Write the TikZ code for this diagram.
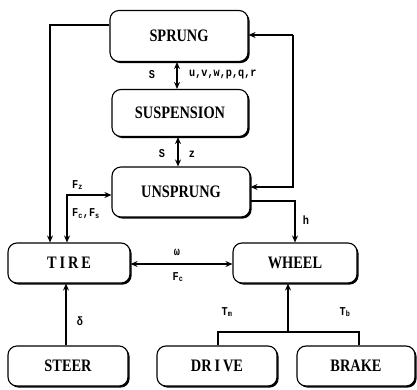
\documentclass[tikz,border=0pt]{standalone}
\usepackage{fontspec}
\newfontfamily\lbl[FakeStretch=0.82]{Liberation Serif}
\newfontfamily\sml[FakeStretch=0.85]{Liberation Mono}
\usetikzlibrary{shadows,arrows.meta}
\newcommand{\sbs}[1]{\textsubscript{#1}}
\begin{document}
\begin{tikzpicture}[x=1pt,y=-1pt,
  blk/.style={draw,line width=1.1pt,rounded corners=9pt,fill=white,
    drop shadow={shadow xshift=1.6pt,shadow yshift=-1.6pt,opacity=1,fill=black},
    font=\lbl\bfseries\fontsize{17.5}{17.5}\selectfont,inner sep=0pt},
  arr/.style={line width=1.1pt,-{Stealth[length=7pt,width=6pt]}},
  darr/.style={line width=1.1pt,{Stealth[length=7pt,width=6pt]}-{Stealth[length=7pt,width=6pt]}},
  ln/.style={line width=1.1pt},
  lab/.style={font=\sml\bfseries\fontsize{12}{12}\selectfont,inner sep=1pt}]
\useasboundingbox (0,0) rectangle (417,390);
\node[blk,minimum width=138pt,minimum height=51pt] (sprung) at (179,36) {SPRUNG};
\node[blk,minimum width=136pt,minimum height=47pt] (susp) at (180,113) {SUSPENSION};
\node[blk,minimum width=138pt,minimum height=50pt] (unspr) at (181,192) {UNSPRUNG};
\node[blk,minimum width=122pt,minimum height=40pt] (tire) at (69,263) {T\,I\,R\,E};
\node[blk,minimum width=124pt,minimum height=40pt] (wheel) at (295,263) {WHEEL};
\node[blk,minimum width=120pt,minimum height=40pt] (steer) at (68,366) {STEER};
\node[blk,minimum width=120pt,minimum height=40pt] (drive) at (217,366) {DR\,I\,VE};
\node[blk,minimum width=118pt,minimum height=40pt] (brake) at (356,366) {BRAKE};
% sprung - suspension
\draw[darr] (sprung.south -| 177,0) -- (susp.north -| 177,0);
\node[lab] (ls1) at (152,75) {S};
\node[lab,anchor=west] (luv) at (188,75) {u,v,w,p,q,r};
% suspension - unsprung
\draw[darr] (susp.south -| 178,0) -- (unspr.north -| 178,0);
\node[lab] (ls2) at (162,154) {S};
\node[lab] (lz) at (192,154) {z};
% sprung -> tire
\draw[arr] (sprung.west |- 0,25) -| (tire.north -| 50,0);
% tire <-> unsprung
\draw[darr] (unspr.west |- 0,195) -| (tire.north -| 67,0);
\node[lab,anchor=west] (lfz) at (71,185) {F\sbs{z}};
\node[lab,anchor=west] (lfc) at (71,214) {F\sbs{c},F\sbs{s}};
% feedback to sprung and unsprung
\coordinate (rt) at (293,35);
\coordinate (rb) at (293,187);
\draw[ln,-{Stealth[length=7pt,width=6pt]}] (rt) -- (sprung.east |- rt);
\draw[ln,-{Stealth[length=7pt,width=6pt]}] (rt) -- (rb) -- (unspr.east |- rb);
% unsprung -> wheel
\draw[arr] (unspr.east |- 0,201) -| (wheel.north -| 295,0);
\node[lab] (lh) at (306,220) {h};
% tire <-> wheel
\draw[darr] (tire.east |- 0,264) -- (wheel.west |- 0,264);
\node[lab] (lw) at (177,252) {ω};
\node[lab] (lfc2) at (178,277) {F\sbs{c}};
% steer -> tire
\draw[arr] (steer.north -| 66,0) -- (tire.south -| 66,0);
\node[lab] (ld) at (80,321) {δ};
% drive/brake -> wheel
\coordinate (jn) at (288,332);
\draw[ln] (drive.north -| 218,0) -- (218,332) -- (359,332) -- (brake.north -| 359,0);
\draw[arr] (jn) -- (wheel.south -| jn);
\node[lab] (ltm) at (227,312) {T\sbs{m}};
\node[lab] (ltb) at (345,312) {T\sbs{b}};
\end{tikzpicture}
\end{document}
